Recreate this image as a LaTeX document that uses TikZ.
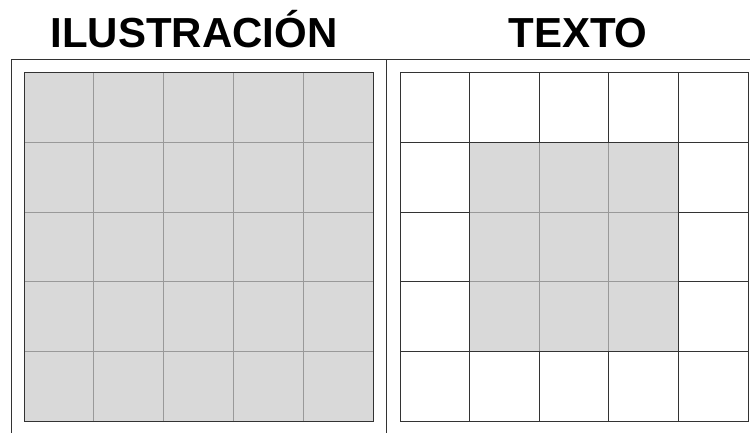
\documentclass[tikz,border=0pt]{standalone}
\usepackage{fontspec}
\setmainfont{Liberation Sans}
\definecolor{cellgray}{HTML}{D9D9D9}
\definecolor{thin}{HTML}{999999}
\definecolor{frame}{HTML}{333333}
\begin{document}
\begin{tikzpicture}[x=1pt,y=-1pt,
  title/.style={font=\fontsize{42}{42}\selectfont\bfseries,inner sep=0pt,anchor=base},
  framerule/.style={draw=frame,line width=1pt},
  thinline/.style={draw=thin,line width=1pt},
  darkline/.style={draw=frame,line width=1pt}]
\useasboundingbox (0,0) rectangle (750,433);
% titles
\node[title] (t1) at (194,48) {ILUSTRACIÓN};
\node[title] (t2) at (578,48) {TEXTO};
% frame
\draw[framerule] (11,433) -- (11,59.5) -- (750,59.5);
\draw[framerule] (386,59.5) -- (386,433);
% left grid
\fill[cellgray] (24,73) rectangle (373,421);
\foreach \i in {1,...,4} {
  \draw[thinline] ({24+\i*69.8},73) -- ({24+\i*69.8},421);
  \draw[thinline] (24,{73+\i*69.6}) -- (373,{73+\i*69.6});
}
\draw[darkline] (24,73) rectangle (373,421);
% right grid
\fill[cellgray] (469.6,142.6) rectangle (678.4,351.4);
\foreach \i in {1,...,4} {
  \draw[darkline] ({400+\i*69.6},73) -- ({400+\i*69.6},142.6);
  \draw[darkline] ({400+\i*69.6},351.4) -- ({400+\i*69.6},421);
  \draw[darkline] (400,{73+\i*69.6}) -- (469.6,{73+\i*69.6});
  \draw[darkline] (678.4,{73+\i*69.6}) -- (748,{73+\i*69.6});
}
\draw[thinline] (539.2,142.6) -- (539.2,351.4);
\draw[thinline] (608.8,142.6) -- (608.8,351.4);
\draw[thinline] (469.6,212.2) -- (678.4,212.2);
\draw[thinline] (469.6,281.8) -- (678.4,281.8);
\draw[darkline] (469.6,142.6) rectangle (678.4,351.4);
\draw[darkline] (400,73) rectangle (748,421);
\end{tikzpicture}
\end{document}
